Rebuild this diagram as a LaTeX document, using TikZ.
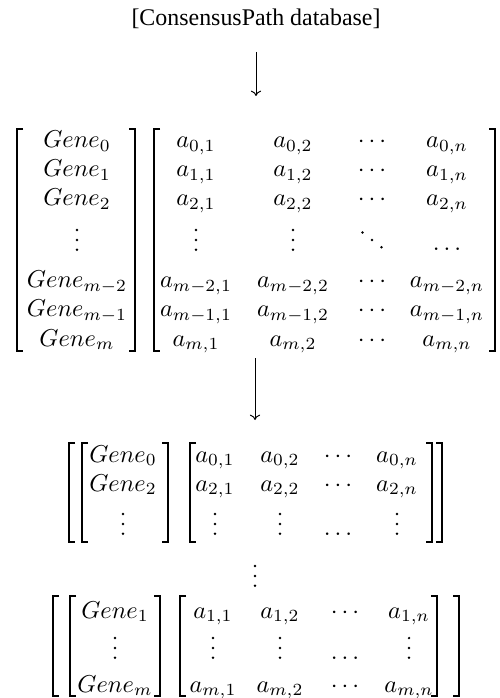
\documentclass[tikz,border=0pt]{standalone}
\usepackage{fontspec}
\newfontfamily\timesfont{Liberation Serif}
\usetikzlibrary{arrows.meta}
\tikzset{
  cell/.style={anchor=base, inner sep=0pt, outer sep=0pt},
  brk/.style={line width=0.8pt, line cap=butt, line join=miter},
  flow/.style={line width=0.4pt, -{Computer Modern Rightarrow[length=2.2pt,width=4.2pt]}},
  dotf/.style={fill=black},
}
\newcommand\mylb[3]{\draw[brk] (#1+6,#2) -- (#1,#2) -- (#1,#3) -- (#1+6,#3);}
\newcommand\myrb[3]{\draw[brk] (#1-6,#2) -- (#1,#2) -- (#1,#3) -- (#1-6,#3);}
\newcommand\cell[4]{\node[cell] (#1) at (#2,#3) {$#4$};}
% vertical dots: baseline at (#2,#3)
\newcommand\vdc[3]{\coordinate (#1) at (#2,#3);
  \fill[dotf] (#2,#3-1.3) circle[radius=0.56pt] (#2,#3-11.1) circle[radius=0.56pt] (#2,#3-20.9) circle[radius=0.56pt];}
% diagonal dots: baseline at (#2,#3)
\newcommand\ddc[3]{\coordinate (#1) at (#2,#3);
  \fill[dotf] (#2-9.5,#3-18.4) circle[radius=0.56pt] (#2,#3-11.1) circle[radius=0.56pt] (#2+9.5,#3-3.8) circle[radius=0.56pt];}
\begin{document}
\begin{tikzpicture}[x=0.41pt,y=-0.41pt]
\useasboundingbox (0,0) rectangle (499,698);
% top
\node[cell] (db) at (256,26) {\timesfont\fontsize{9.8}{12}\selectfont [ConsensusPath database]};
\coordinate (a1s) at (256,52);
\coordinate (a1e) at (256,96);
\draw[flow] (a1s) -- (a1e);
% matrix 1 brackets
\mylb{17}{129}{351} \myrb{135}{129}{351}
\mylb{154}{129}{351} \myrb{495}{129}{351}
% gene column
\cell{g0}{77}{148}{Gene_0}
\cell{g1}{77}{177}{Gene_1}
\cell{g2}{77}{206}{Gene_2}
\vdc{g3}{77}{251}
\cell{g4}{77}{288}{Gene_{m-2}}
\cell{g5}{77}{317}{Gene_{m-1}}
\cell{g6}{77}{346}{Gene_m}
% data matrix 1
\cell{d01}{196}{148}{a_{0,1}} \cell{d02}{293}{148}{a_{0,2}} \cell{d03}{372}{148}{\cdots} \cell{d04}{447}{148}{a_{0,n}}
\cell{d11}{196}{177}{a_{1,1}} \cell{d12}{293}{177}{a_{1,2}} \cell{d13}{372}{177}{\cdots} \cell{d14}{447}{177}{a_{1,n}}
\cell{d21}{196}{206}{a_{2,1}} \cell{d22}{293}{206}{a_{2,2}} \cell{d23}{372}{206}{\cdots} \cell{d24}{447}{206}{a_{2,n}}
\vdc{d31}{196}{251} \vdc{d32}{293}{251} \ddc{d33}{372}{251} \cell{d34}{447}{251}{\dots}
\cell{d41}{196}{288}{a_{m-2,1}} \cell{d42}{293}{288}{a_{m-2,2}} \cell{d43}{372}{288}{\cdots} \cell{d44}{447}{288}{a_{m-2,n}}
\cell{d51}{196}{317}{a_{m-1,1}} \cell{d52}{293}{317}{a_{m-1,2}} \cell{d53}{372}{317}{\cdots} \cell{d54}{447}{317}{a_{m-1,n}}
\cell{d61}{196}{346}{a_{m,1}} \cell{d62}{293}{346}{a_{m,2}} \cell{d63}{372}{346}{\cdots} \cell{d64}{447}{346}{a_{m,n}}
% arrow 2
\coordinate (a2s) at (255,358);
\coordinate (a2e) at (255,420);
\draw[flow] (a2s) -- (a2e);
% block 2
\mylb{69}{443}{542} \myrb{442}{443}{542}
\mylb{82}{443}{542} \myrb{168}{443}{542}
\mylb{190}{443}{542} \myrb{432}{443}{542}
\cell{p0}{123}{462}{Gene_0}
\cell{p1}{123}{491}{Gene_2}
\vdc{p2}{123}{535}
\cell{e01}{215}{462}{a_{0,1}} \cell{e02}{280}{462}{a_{0,2}} \cell{e03}{338}{462}{\cdots} \cell{e04}{397}{462}{a_{0,n}}
\cell{e11}{215}{491}{a_{2,1}} \cell{e12}{280}{491}{a_{2,2}} \cell{e13}{338}{491}{\cdots} \cell{e14}{397}{491}{a_{2,n}}
\vdc{e21}{215}{535} \vdc{e22}{280}{535} \cell{e23}{338}{535}{\dots} \vdc{e24}{397}{535}
% between
\vdc{mid}{255}{587}
% block 3
\mylb{53}{596}{696} \myrb{459}{596}{696}
\mylb{70}{596}{696} \myrb{160}{596}{696}
\mylb{180}{596}{696} \myrb{437}{596}{696}
\cell{q0}{115}{618}{Gene_1}
\vdc{q1}{115}{659}
\cell{q2}{115}{692}{Gene_m}
\cell{f01}{213}{618}{a_{1,1}} \cell{f02}{280}{618}{a_{1,2}} \cell{f03}{345}{618}{\cdots} \cell{f04}{409}{618}{a_{1,n}}
\vdc{f11}{213}{659} \vdc{f12}{280}{659} \cell{f13}{345}{659}{\dots} \vdc{f14}{409}{659}
\cell{f21}{213}{692}{a_{m,1}} \cell{f22}{280}{692}{a_{m,2}} \cell{f23}{345}{692}{\cdots} \cell{f24}{409}{692}{a_{m,n}}
\end{tikzpicture}
\end{document}
